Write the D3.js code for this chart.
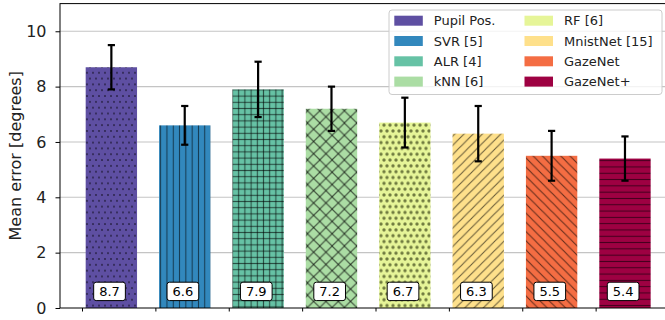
<!DOCTYPE html>
<html>
<head>
<meta charset="utf-8">
<script src="https://cdn.jsdelivr.net/npm/d3@7"></script>
<style>
  body { margin: 0; background: #fff; }
  svg { display: block; font-family: "DejaVu Sans", sans-serif; }
</style>
</head>
<body>
<svg id="chart" width="665" height="320"></svg>
<script>
// ---- data ----
const methods = ["Pupil Pos.", "SVR [5]", "ALR [4]", "kNN [6]", "RF [6]", "MnistNet [15]", "GazeNet", "GazeNet+"];
const meanErrors = [8.7, 6.6, 7.9, 7.2, 6.7, 6.3, 5.5, 5.4];
const stdErrors = [0.8, 0.7, 1.0, 0.8, 0.9, 1.0, 0.9, 0.8];
const barColors = ["#5e4fa2", "#3288bd", "#66c2a5", "#abdda4", "#e6f598", "#fee08b", "#f46d43", "#9e0142"];
const hatches = [".", "|", "+", "x", "o", "/", "\\", "-"];
const yTicks = [0, 2, 4, 6, 8, 10];
const yLabel = "Mean error [degrees]";

// ---- layout ----
const svg = d3.select("#chart");
const pLeft = 60, pTop = 3.6, pBottom = 308, pRight = 669;
const x = d3.scaleLinear().domain([-0.3, 8.0]).range([pLeft, pRight]);
const y = d3.scaleLinear().domain([0, 11]).range([pBottom, pTop]);

const defs = svg.append("defs");
const hatchStroke = "rgba(0,0,0,0.58)";

function makePattern(id, color, h) {
  let s;
  if (h === ".") s = 6;
  else if (h === "|" || h === "-") s = 6.3;
  else if (h === "+") s = 6.2;
  else if (h === "x") s = 12.3;
  else if (h === "o") s = 6;
  else s = 9.2;
  const w = s, ht = (h === "." || h === "o") ? s * 2 * 0.97 : s;
  const p = defs.append("pattern").attr("id", id)
    .attr("patternUnits", "userSpaceOnUse")
    .attr("width", w).attr("height", ht);
  p.append("rect").attr("width", w).attr("height", ht).attr("fill", color);
  const line = (d, sw) => p.append("path").attr("d", d).attr("stroke", hatchStroke)
    .attr("stroke-width", sw || 1).attr("fill", "none");
  if (h === "|") line(`M${w/2},0V${ht}`);
  else if (h === "-") line(`M0,${ht/2}H${w}`);
  else if (h === "+") { line(`M${w/2},0V${ht}`, 1.1); line(`M0,${ht/2}H${w}`, 1.1); }
  else if (h === "/") line(`M-1,1L1,-1M0,${s}L${s},0M${s-1},${s+1}L${s+1},${s-1}`, 1.1);
  else if (h === "\\") line(`M-1,${s-1}L1,${s+1}M0,0L${s},${s}M${s-1},-1L${s+1},1`, 1.1);
  else if (h === "x") {
    line(`M-1,1L1,-1M0,${s}L${s},0M${s-1},${s+1}L${s+1},${s-1}`, 1.2);
    line(`M-1,${s-1}L1,${s+1}M0,0L${s},${s}M${s-1},-1L${s+1},1`, 1.2);
  } else if (h === "." || h === "o") {
    const r = h === "." ? 0.85 : 1.7;
    const fill = h === "." ? "rgba(0,0,0,0.65)" : "rgba(40,50,10,0.62)";
    [[w/2, ht/4], [0, 3*ht/4], [w, 3*ht/4]].forEach(([cx, cy]) =>
      p.append("circle").attr("cx", cx).attr("cy", cy).attr("r", r).attr("fill", fill));
  }
}
methods.forEach((m, i) => makePattern("hatch" + i, barColors[i], hatches[i]));

// ---- grid ----
svg.append("g").selectAll("line").data(yTicks.filter(t => t > 0)).join("line")
  .attr("x1", pLeft).attr("x2", pRight)
  .attr("y1", d => y(d)).attr("y2", d => y(d))
  .attr("stroke", "#c4c4c4").attr("stroke-width", 1.1);

// ---- bars ----
const barW = 0.7;
svg.append("g").selectAll("rect").data(meanErrors).join("rect")
  .attr("x", (d, i) => x(i + 0.05))
  .attr("width", x(barW) - x(0))
  .attr("y", d => y(d))
  .attr("height", d => y(0) - y(d))
  .attr("fill", (d, i) => `url(#hatch${i})`);

// ---- error bars ----
const eg = svg.append("g").attr("stroke", "#000").attr("stroke-width", 2.2);
meanErrors.forEach((m, i) => {
  const cx = x(i + 0.4);
  const y1 = y(m + stdErrors[i]), y2 = y(m - stdErrors[i]);
  eg.append("line").attr("x1", cx).attr("x2", cx).attr("y1", y1).attr("y2", y2);
  eg.append("line").attr("x1", cx - 3.6).attr("x2", cx + 3.6).attr("y1", y1).attr("y2", y1);
  eg.append("line").attr("x1", cx - 3.6).attr("x2", cx + 3.6).attr("y1", y2).attr("y2", y2);
});

// ---- value labels ----
const lg = svg.append("g");
meanErrors.forEach((m, i) => {
  const cx = x(i + 0.375), cy = y(0.6);
  const g = lg.append("g");
  const t = g.append("text").attr("x", cx).attr("y", cy).attr("text-anchor", "middle")
    .attr("dominant-baseline", "central").attr("font-size", 13).attr("fill", "#000")
    .text(m.toFixed(1));
  const bb = t.node().getBBox();
  g.insert("rect", "text")
    .attr("x", cx - bb.width / 2 - 5.5).attr("width", bb.width + 11)
    .attr("y", cy - 9.2).attr("height", 18.4)
    .attr("rx", 2.5).attr("fill", "#fff").attr("stroke", "#000").attr("stroke-width", 1);
});

// ---- axes ----
const yAxis = d3.axisLeft(y).tickValues(yTicks).tickSize(4.5).tickPadding(9).tickFormat(d3.format("d"));
const ya = svg.append("g").attr("transform", `translate(${pLeft},0)`).call(yAxis);
ya.select(".domain").remove();
ya.selectAll("text").attr("font-size", 16).attr("fill", "#222").attr("font-family", "DejaVu Sans");

const xAxis = d3.axisBottom(x).tickValues(d3.range(methods.length)).tickSize(3.5).tickFormat("");
const xa = svg.append("g").attr("transform", `translate(0,${pBottom})`).call(xAxis);
xa.select(".domain").remove();

// spines
svg.append("rect").attr("x", pLeft).attr("y", pTop).attr("width", pRight - pLeft).attr("height", pBottom - pTop)
  .attr("fill", "none").attr("stroke", "#000").attr("stroke-width", 1);

// y label
svg.append("text").attr("transform", `translate(15,${(pTop + pBottom) / 2}) rotate(-90)`)
  .attr("text-anchor", "middle").attr("dominant-baseline", "central")
  .attr("font-size", 16).attr("fill", "#222").text(yLabel);

// ---- legend ----
const leg = svg.append("g");
leg.append("rect").attr("x", 389).attr("y", 10).attr("width", 273).attr("height", 84.5)
  .attr("rx", 3).attr("fill", "rgba(255,255,255,0.8)").attr("stroke", "#cccccc").attr("stroke-width", 1);
methods.forEach((m, i) => {
  const col = Math.floor(i / 4), row = i % 4;
  const hx = col === 0 ? 394.3 : 524.5;
  const cy = 20.7 + row * 20.3;
  leg.append("rect").attr("x", hx).attr("y", cy - 5).attr("width", 28.5).attr("height", 10)
    .attr("fill", barColors[i]);
  leg.append("text").attr("x", hx + 39.5).attr("y", cy).attr("dominant-baseline", "central")
    .attr("font-size", 13).attr("fill", "#222").text(m);
});
</script>
</body>
</html>
